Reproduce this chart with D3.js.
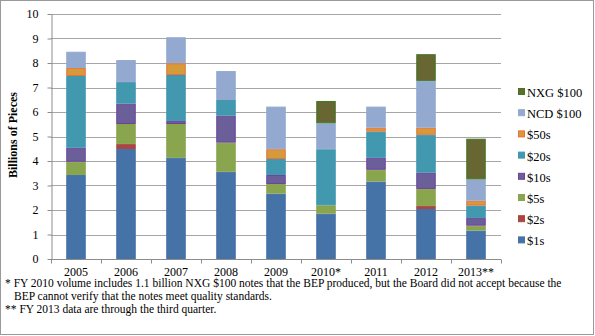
<!DOCTYPE html>
<html>
<head>
<meta charset="utf-8">
<title>Billions of Pieces</title>
<script src="https://cdn.jsdelivr.net/npm/d3@7"></script>
<style>
  body { margin: 0; background: #fff; }
  svg { display: block; font-family: "Liberation Serif", "Times New Roman", serif; }
  .grid line { stroke: #a6a6a6; stroke-width: 1; }
  .axis path, .axis line { stroke: #8c8c8c; }
  .axis text { font-size: 12px; fill: #000; font-family: "Liberation Serif", serif; }
  .note { font-size: 11.5px; fill: #000; }
  .legend text { font-size: 12.5px; fill: #000; }
</style>
</head>
<body>
<svg id="chart" width="595" height="336"></svg>
<script>
// years on the x axis
var years = ["2005", "2006", "2007", "2008", "2009", "2010*", "2011", "2012", "2013**"];

// billions of notes per denomination
var ones    = [3.43, 4.49, 4.13, 3.56, 2.67, 1.85, 3.16, 2.04, 1.16];
var twos    = [0.00, 0.20, 0.00, 0.00, 0.00, 0.00, 0.00, 0.12, 0.00];
var fives   = [0.54, 0.82, 1.38, 1.19, 0.39, 0.34, 0.48, 0.70, 0.20];
var tens    = [0.57, 0.83, 0.12, 1.10, 0.37, 0.00, 0.49, 0.66, 0.31];
var twenties= [2.93, 0.88, 1.88, 0.64, 0.65, 2.29, 1.07, 1.55, 0.51];
var fifties = [0.33, 0.00, 0.48, 0.00, 0.40, 0.00, 0.16, 0.29, 0.20];
var ncd100  = [0.66, 0.90, 1.06, 1.18, 1.74, 1.06, 0.86, 1.91, 0.87];
var nxg100  = [0.00, 0.00, 0.00, 0.00, 0.00, 0.91, 0.00, 1.09, 1.66];

var yTicks = [0, 1, 2, 3, 4, 5, 6, 7, 8, 9, 10];

var series = [
  { name: "$1s",      values: ones,     fill: "#4572a7", line: "#4572a7" },
  { name: "$2s",      values: twos,     fill: "#aa4643", line: "#aa4643" },
  { name: "$5s",      values: fives,    fill: "#89a54e", line: "#89a54e" },
  { name: "$10s",     values: tens,     fill: "#6a5f98", line: "#7040a0" },
  { name: "$20s",     values: twenties, fill: "#4198af", line: "#4198af" },
  { name: "$50s",     values: fifties,  fill: "#d69a3a", line: "#e8713a" },
  { name: "NCD $100", values: ncd100,   fill: "#93a9cf", line: "#93a9cf" },
  { name: "NXG $100", values: nxg100,   fill: "#686633", line: "#3f7a22" }
];

var footnotes = [
  { x: 5,  y: 287, t: "* FY 2010 volume includes 1.1 billion  NXG $100 notes that the BEP produced, but the Board did not accept because the" },
  { x: 14, y: 300, t: "BEP cannot verify that the notes meet quality standards." },
  { x: 5,  y: 313, t: "** FY 2013 data are through the third quarter." }
];

var svg = d3.select("#chart");

// outer frame
svg.append("rect")
  .attr("x", 0.5).attr("y", 0.5)
  .attr("width", 593).attr("height", 334)
  .attr("fill", "none").attr("stroke", "#9a9a9a");

var margin = { left: 51, top: 14, right: 501, bottom: 259 };

var x = d3.scaleBand()
  .domain(years)
  .range([margin.left, margin.right])
  .paddingInner(0.61)
  .paddingOuter(0.305);

var y = d3.scaleLinear()
  .domain([0, 10])
  .range([margin.bottom, margin.top]);

// gridlines
svg.append("g").attr("class", "grid")
  .selectAll("line")
  .data(yTicks.filter(function (d) { return d > 0; }))
  .enter().append("line")
    .attr("x1", margin.left).attr("x2", margin.right)
    .attr("y1", function (d) { return Math.round(y(d)) + 0.5; })
    .attr("y2", function (d) { return Math.round(y(d)) + 0.5; });

// stack
var rows = years.map(function (yr, i) {
  var r = { year: yr };
  series.forEach(function (s) { r[s.name] = s.values[i]; });
  return r;
});
var stack = d3.stack().keys(series.map(function (s) { return s.name; }));
var layers = stack(rows);

svg.append("g").selectAll("g")
  .data(layers)
  .enter().append("g")
    .attr("fill", function (d, i) { return series[i].fill; })
    .attr("stroke", function (d, i) { return series[i].line; })
  .selectAll("rect")
  .data(function (d) { return d.filter(function (p) { return p[1] - p[0] > 0; }); })
  .enter().append("rect")
    .attr("x", function (d) { return x(d.data.year) + 0.5; })
    .attr("y", function (d) { return y(d[1]) + 0.5; })
    .attr("width", x.bandwidth() - 1)
    .attr("height", function (d) { return Math.max(0, y(d[0]) - y(d[1]) - 1); })
    .attr("stroke-width", 1);

// y axis
svg.append("g").attr("class", "axis")
  .attr("transform", "translate(" + (margin.left + 0.5) + ",0)")
  .call(d3.axisLeft(y).tickValues(yTicks).tickSize(4).tickSizeOuter(0).tickPadding(9));

// x axis with ticks between categories
var xAxis = svg.append("g").attr("class", "axis")
  .attr("transform", "translate(0," + (margin.bottom + 0.5) + ")");
xAxis.append("line")
  .attr("x1", margin.left).attr("x2", margin.right);
xAxis.selectAll(".tk")
  .data(d3.range(years.length + 1))
  .enter().append("line")
    .attr("class", "tk")
    .attr("x1", function (i) { return Math.round(margin.left + i * (margin.right - margin.left) / years.length) + 0.5; })
    .attr("x2", function (i) { return Math.round(margin.left + i * (margin.right - margin.left) / years.length) + 0.5; })
    .attr("y1", 0).attr("y2", 4);
xAxis.selectAll("text")
  .data(years)
  .enter().append("text")
    .attr("x", function (d) { return x(d) + x.bandwidth() / 2; })
    .attr("y", 16)
    .attr("text-anchor", "middle")
    .text(function (d) { return d; });

// y axis title
svg.append("text")
  .attr("transform", "translate(17,135) rotate(-90)")
  .attr("text-anchor", "middle")
  .attr("font-size", 12)
  .attr("font-weight", "bold")
  .text("Billions of Pieces");

// legend, top item is NXG
var legend = svg.append("g").attr("class", "legend")
  .selectAll("g")
  .data(series.slice().reverse())
  .enter().append("g")
    .attr("transform", function (d, i) { return "translate(518," + (93 + i * 21.2) + ")"; });
legend.append("rect")
  .attr("x", 0.5).attr("y", -4.5)
  .attr("width", 6).attr("height", 6)
  .attr("fill", function (d) { return d.fill; })
  .attr("stroke", function (d) { return d.line; });
legend.append("text")
  .attr("x", 9).attr("y", 4)
  .text(function (d) { return d.name; });

// footnotes
svg.append("g").selectAll("text")
  .data(footnotes)
  .enter().append("text")
    .attr("class", "note")
    .attr("x", function (d) { return d.x; })
    .attr("y", function (d) { return d.y; })
    .text(function (d) { return d.t; });
</script>
</body>
</html>
